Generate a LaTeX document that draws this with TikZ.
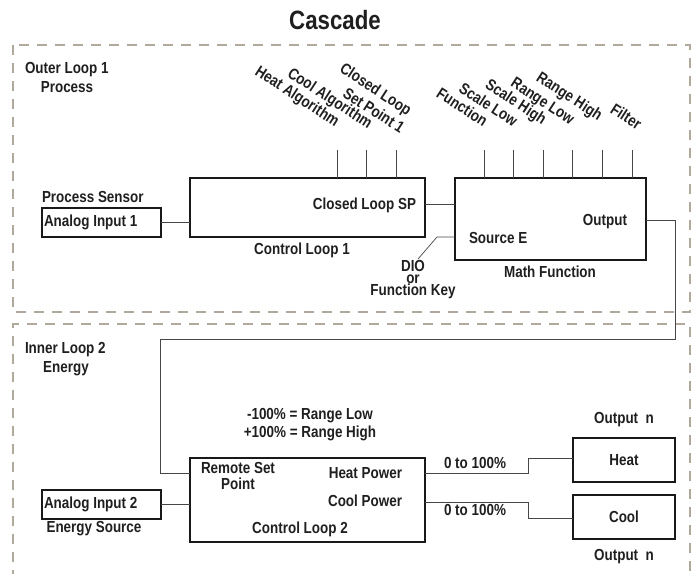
\documentclass[tikz,border=0pt]{standalone}
\usepackage{fontspec}
\setmainfont{Liberation Sans}[FakeStretch=0.84]
\definecolor{dashgray}{RGB}{176,169,156}
\definecolor{wire}{RGB}{70,70,70}
\begin{document}
\begin{tikzpicture}[x=1pt,y=-1pt,
  every node/.style={inner sep=0pt, outer sep=0pt},
  lbl/.style={font=\bfseries\fontsize{16}{12}\selectfont, text=black!88},
  box/.style={draw=black!90, line width=1.1pt, fill=white},
  wirel/.style={draw=wire, line width=0.9pt},
  frame/.style={draw=dashgray, line width=2pt, dash pattern=on 10pt off 8pt},
  rlab/.style={lbl, rotate=-33, anchor=base east}]
\useasboundingbox (0,0) rectangle (696,573);
% dashed frames
\draw[frame] (13,45) rectangle (690,312);
\draw[frame] (13,580) -- (13,324) -- (690,324) -- (690,580);
% title
\node[lbl, font=\bfseries\fontsize{26.5}{26}\selectfont] (title) at (335,20) {Cascade};
\node[lbl, anchor=west] (outer) at (25,70) {Outer Loop 1};
\node[lbl] (outerp) at (67,87) {Process};
\node[lbl, anchor=west] (inner) at (25,350) {Inner Loop 2};
\node[lbl] (innere) at (66,369) {Energy};
% outer loop boxes
\node[lbl, anchor=west] (psens) at (42,197) {Process Sensor};
\node[box, minimum width=119pt, minimum height=29pt] (ai1) at (101.5,222.5) {};
\node[lbl, anchor=west] (ai1t) at (44,222.5) {Analog Input 1};
\node[box, minimum width=235pt, minimum height=59pt] (cl1) at (307.5,207.5) {};
\node[lbl, anchor=east] (clsp) at (416,205) {Closed Loop SP};
\node[lbl] (cl1t) at (302,250) {Control Loop 1};
\node[box, minimum width=191pt, minimum height=82pt] (mf) at (550.5,219) {};
\node[lbl, anchor=west] (srcE) at (469,238) {Source E};
\node[lbl, anchor=east] (outt) at (627,222) {Output};
\node[lbl] (mft) at (550,272) {Math Function};
\node[lbl, align=center, font=\bfseries\fontsize{16}{12}\selectfont] (dio) at (413,280) {DIO\\or\\Function Key};
% ticks
\foreach \x/\n in {337/a,366/b,396/c}{
  \coordinate (t\n) at (\x,150);
  \draw[wirel] (t\n) -- (t\n |- cl1.north);
}
\foreach \x/\n in {484/d,513/e,543/f,572/g,602/h,632/i}{
  \coordinate (t\n) at (\x,150);
  \draw[wirel] (t\n) -- (t\n |- mf.north);
}
% rotated labels
\node[rlab] (lha) at (335,127) {Heat Algorithm};
\node[rlab] (lca) at (368,129) {Cool Algorithm};
\node[rlab] (lcl) at (407,116) {Closed Loop};
\node[rlab] (lsp) at (400,134) {Set Point 1};
\node[rlab] (lfn) at (483,127) {Function};
\node[rlab] (lsl) at (513,127) {Scale Low};
\node[rlab] (lsh) at (542,125) {Scale High};
\node[rlab] (lrl) at (570,125) {Range Low};
\node[rlab] (lrh) at (598,121) {Range High};
\node[rlab] (lfi) at (637,130) {Filter};
% outer connectors
\draw[wirel] (ai1.east) -- (cl1.west |- ai1.east);
\draw[wirel] (cl1.east |- 0,204) -- (mf.west |- 0,204);
\coordinate (dioA) at (437,237);
\coordinate (dioB) at (418,259);
\draw[wirel, line width=0.7pt] (mf.west |- dioA) -- (dioA) -- (dioB);
% inner loop
\node[lbl, align=center, font=\bfseries\fontsize{16}{18}\selectfont] (range) at (310,425) {-100\% = Range Low\\+100\% = Range High};
\node[box, minimum width=235pt, minimum height=84pt] (cl2) at (307.5,500) {};
\node[lbl, align=center, font=\bfseries\fontsize{16}{16}\selectfont] (rsp) at (238,476) {Remote Set\\Point};
\node[lbl, anchor=east] (hp) at (402,473) {Heat Power};
\node[lbl, anchor=east] (cp) at (402,501) {Cool Power};
\node[lbl] (cl2t) at (300,529) {Control Loop 2};
\node[box, minimum width=119pt, minimum height=29pt] (ai2) at (101.5,504.5) {};
\node[lbl, anchor=west] (ai2t) at (44,504.5) {Analog Input 2};
\node[lbl] (esrc) at (94,529) {Energy Source};
\node[box, minimum width=102pt, minimum height=44pt] (heat) at (624,460) {};
\node[lbl] (heatt) at (624,460) {Heat};
\node[box, minimum width=102pt, minimum height=44pt] (cool) at (624,517) {};
\node[lbl] (coolt) at (624,517) {Cool};
\node[lbl] (on1) at (624,420) {Output\ \ n};
\node[lbl] (on2) at (624,557) {Output\ \ n};
\node[lbl] (p1) at (475,463) {0 to 100\%};
\node[lbl] (p2) at (475,510) {0 to 100\%};
% output feedback wire
\coordinate (w1) at (675,220);
\coordinate (w2) at (675,339);
\coordinate (w3) at (160,339);
\coordinate (w4) at (160,473);
\draw[wirel] (mf.east |- w1) -- (w1) -- (w2) -- (w3) -- (w4) -- (cl2.west |- w4);
\draw[wirel] (ai2.east) -- (cl2.west |- ai2.east);
% heat / cool wires
\coordinate (h1) at (528,473);
\coordinate (h2) at (528,458);
\draw[wirel] (cl2.east |- h1) -- (h1) -- (h2) -- (heat.west |- h2);
\coordinate (c1) at (528,502);
\coordinate (c2) at (528,518);
\draw[wirel] (cl2.east |- c1) -- (c1) -- (c2) -- (cool.west |- c2);
\end{tikzpicture}
\end{document}
